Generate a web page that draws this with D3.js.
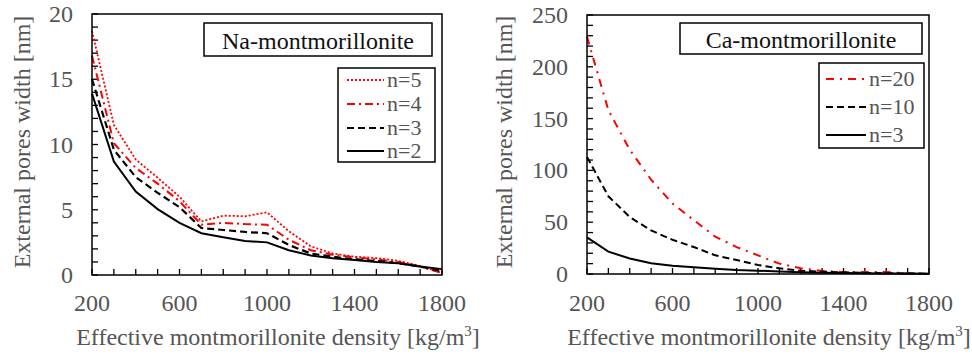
<!DOCTYPE html>
<html>
<head>
<meta charset="utf-8">
<script src="https://cdn.jsdelivr.net/npm/d3@7"></script>
<style>
  body { margin: 0; background: #fff; }
  svg { font-family: "Liberation Serif", "Times New Roman", serif; }
</style>
</head>
<body>
<script>
// x values shared by both panels
const density = [200, 300, 400, 500, 600, 700, 800, 900, 1000, 1100, 1200, 1300, 1400, 1500, 1600, 1700, 1800];
const xTicks = [200, 600, 1000, 1400, 1800];

// Na-montmorillonite
const naN5 = [18.7, 11.5, 8.85, 7.45, 6.0, 4.1, 4.55, 4.5, 4.8, 3.35, 2.2, 1.65, 1.4, 1.3, 1.08, 0.7, 0.15];
const naN4 = [16.8, 10.1, 8.2, 7.0, 5.65, 3.85, 4.0, 3.9, 3.85, 2.7, 1.9, 1.55, 1.35, 1.2, 1.0, 0.65, 0.15];
const naN3 = [15.0, 9.6, 7.5, 6.3, 5.2, 3.6, 3.45, 3.3, 3.2, 2.3, 1.65, 1.4, 1.2, 1.08, 0.9, 0.65, 0.3];
const naN2 = [13.9, 8.7, 6.4, 5.05, 4.0, 3.2, 2.9, 2.6, 2.5, 1.9, 1.5, 1.28, 1.15, 1.0, 0.9, 0.65, 0.45];
const naYTicks = [0, 5, 10, 15, 20];

// Ca-montmorillonite
const caN20 = [229, 158, 120, 91, 68, 52, 36, 26, 18, 10, 5.5, 3, 2, 2, 2, 0.6, 0.3];
const caN10 = [113, 75, 55, 42, 33, 26, 18, 13.5, 8.7, 5.5, 3.2, 2.2, 1.6, 1.0, 0.8, 0.5, 0.3];
const caN3 = [35.4, 21.6, 15, 10.3, 8, 6.4, 5.1, 3.9, 3.2, 2.3, 1.6, 1.3, 1.0, 0.8, 0.6, 0.4, 0.3];
const caYTicks = [0, 50, 100, 150, 200, 250];

const RED = "#ff0000";
const TEXT = "#555";
const FS = 24;

const svg = d3.select("body").append("svg")
  .attr("width", 972)
  .attr("height", 355);

function drawPanel(p) {
  const x = d3.scaleLinear().domain([200, 1800]).range([p.left, p.right]);
  const y = d3.scaleLinear().domain([0, p.yMax]).range([p.bottom, p.top]);
  const g = svg.append("g");

  // minor ticks, pointing inward
  g.append("g").selectAll("line")
    .data(d3.range(0, p.yMax + 0.001, p.yMinor))
    .join("line")
    .attr("x1", p.left).attr("x2", p.left + 6)
    .attr("y1", d => y(d)).attr("y2", d => y(d))
    .attr("stroke", "#000").attr("stroke-width", 1.3);
  g.append("g").selectAll("line")
    .data(d3.range(200, 1801, 100))
    .join("line")
    .attr("x1", d => x(d)).attr("x2", d => x(d))
    .attr("y1", p.bottom).attr("y2", p.bottom - 6)
    .attr("stroke", "#000").attr("stroke-width", 1.3);

  // tick labels
  g.append("g").selectAll("text")
    .data(p.yTicks)
    .join("text")
    .attr("x", p.left - 19).attr("y", d => y(d) + 8)
    .attr("text-anchor", "end")
    .attr("font-size", FS).attr("fill", TEXT)
    .text(d => d);
  g.append("g").selectAll("text")
    .data(xTicks)
    .join("text")
    .attr("x", d => x(d)).attr("y", 311)
    .attr("text-anchor", "middle")
    .attr("font-size", FS).attr("fill", TEXT)
    .text(d => d);

  // series
  const line = d3.line().x((d, i) => x(density[i])).y(d => y(d));
  p.series.forEach(s => {
    g.append("path")
      .datum(s.values)
      .attr("fill", "none")
      .attr("stroke", s.color)
      .attr("stroke-width", s.width)
      .attr("stroke-dasharray", s.dash)
      .attr("d", line);
  });

  // frame
  g.append("rect")
    .attr("x", p.left).attr("y", p.top)
    .attr("width", p.right - p.left).attr("height", p.bottom - p.top)
    .attr("fill", "none").attr("stroke", "#000").attr("stroke-width", 1.5);

  // title box
  const tb = p.titleBox;
  g.append("rect")
    .attr("x", tb[0]).attr("y", tb[1]).attr("width", tb[2] - tb[0]).attr("height", tb[3] - tb[1])
    .attr("fill", "#fff").attr("stroke", "#000").attr("stroke-width", 1.5);
  g.append("text")
    .attr("x", (tb[0] + tb[2]) / 2).attr("y", (tb[1] + tb[3]) / 2 + 9)
    .attr("text-anchor", "middle").attr("font-size", FS).attr("fill", "#111")
    .text(p.title);

  // legend
  const lb = p.legendBox;
  g.append("rect")
    .attr("x", lb[0]).attr("y", lb[1]).attr("width", lb[2] - lb[0]).attr("height", lb[3] - lb[1])
    .attr("fill", "#fff").attr("stroke", "#000").attr("stroke-width", 1.5);
  p.series.forEach((s, i) => {
    const ly = p.legendY[i];
    g.append("line")
      .attr("x1", p.legendX[0]).attr("x2", p.legendX[1])
      .attr("y1", ly).attr("y2", ly)
      .attr("stroke", s.color).attr("stroke-width", s.width)
      .attr("stroke-dasharray", s.dash);
    g.append("text")
      .attr("x", p.legendX[1] + 3).attr("y", ly + 7)
      .attr("font-size", 22).attr("fill", TEXT)
      .text(s.name);
  });

  // axis titles
  g.append("text")
    .attr("x", (p.left + p.right) / 2 + 11).attr("y", 345)
    .attr("text-anchor", "middle").attr("font-size", FS).attr("fill", TEXT)
    .text("Effective montmorillonite density [kg/m")
    .append("tspan").attr("dy", -9).attr("font-size", 15).text("3")
    .select(function () { return this.parentNode; })
    .append("tspan").attr("dy", 9).text("]");
  g.append("text")
    .attr("transform", `translate(${p.yLabelX}, 142) rotate(-90)`)
    .attr("text-anchor", "middle").attr("font-size", FS).attr("fill", TEXT)
    .text("External pores width [nm]");
}

drawPanel({
  left: 92, right: 442, top: 14, bottom: 275,
  yMax: 20, yMinor: 1, yTicks: naYTicks,
  yLabelX: 30,
  title: "Na-montmorillonite",
  titleBox: [204, 23, 432, 56],
  legendBox: [338, 68, 435, 162],
  legendX: [347, 384],
  legendY: [80, 104, 128, 151],
  series: [
    { name: "n=5", values: naN5, color: RED, width: 1.8, dash: "2,2" },
    { name: "n=4", values: naN4, color: RED, width: 2, dash: "8,4,2,4" },
    { name: "n=3", values: naN3, color: "#000", width: 2.2, dash: "7,4" },
    { name: "n=2", values: naN2, color: "#000", width: 2, dash: null }
  ]
});

drawPanel({
  left: 587, right: 929, top: 15, bottom: 274,
  yMax: 250, yMinor: 10, yTicks: caYTicks,
  yLabelX: 512,
  title: "Ca-montmorillonite",
  titleBox: [680, 23, 922, 54],
  legendBox: [819, 63, 924, 148],
  legendX: [826, 866],
  legendY: [79, 107, 135],
  series: [
    { name: "n=20", values: caN20, color: RED, width: 2, dash: "8,6,2,6" },
    { name: "n=10", values: caN10, color: "#000", width: 2, dash: "7,4" },
    { name: "n=3", values: caN3, color: "#000", width: 2, dash: null }
  ]
});
</script>
</body>
</html>
